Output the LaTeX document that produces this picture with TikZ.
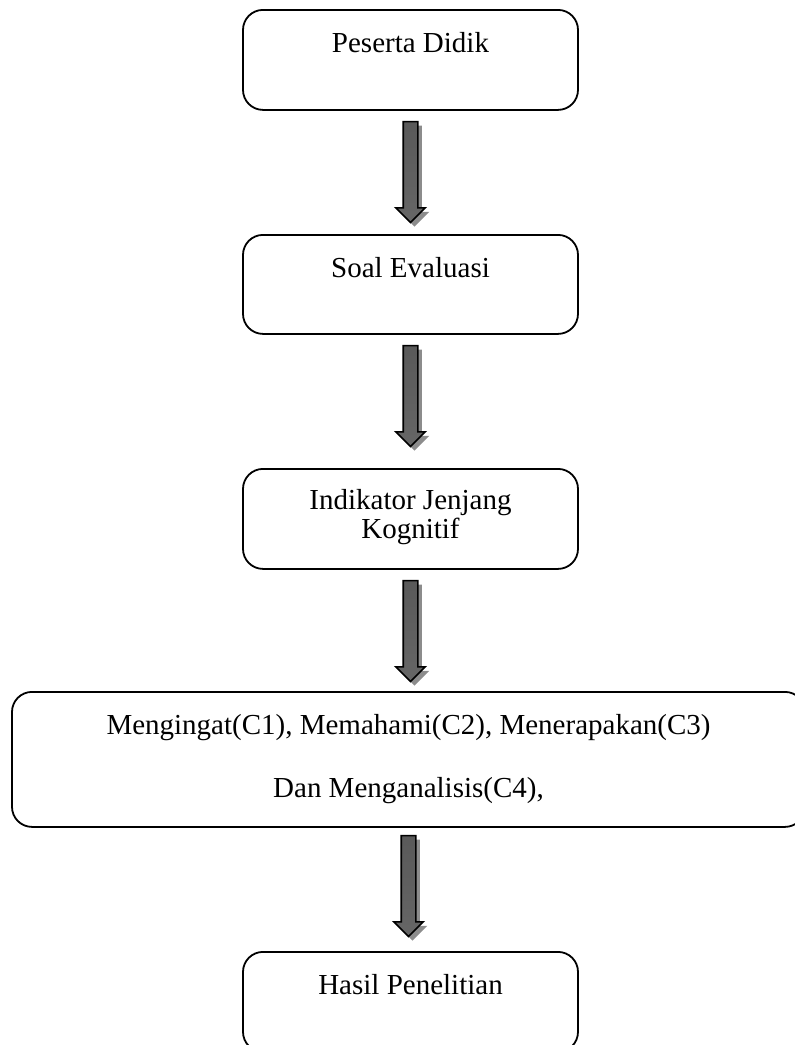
\documentclass[tikz,border=0pt]{standalone}
\usepackage{fontspec}
\setmainfont{Liberation Serif}
\usetikzlibrary{positioning,shapes.arrows,shadows}

\begin{document}
\begin{tikzpicture}[x=0.5pt,y=-0.5pt,
    box/.style={draw, line width=0.9pt, rounded corners=10pt, minimum width=167.5pt,
      inner ysep=0pt, text height=21.5pt, text depth=28.5pt, align=center, anchor=north,
      font=\fontsize{14.5pt}{14.5pt}\selectfont},
    downarr/.style={single arrow, shape border rotate=270, draw=black, line width=0.8pt,
      minimum height=50.5pt, minimum width=14pt, single arrow head extend=3.75pt,
      single arrow head indent=0pt, inner xsep=3.25pt, inner ysep=0pt,
      top color=black!65, middle color=black, bottom color=black!60,
      drop shadow={opacity=1, fill=black!45, shadow xshift=2pt, shadow yshift=-2pt},
      anchor=tail}]
  \useasboundingbox (0,0) rectangle (795,1045);
  % boxes
  \node[box] (peserta) at (410.5,9) {Peserta Didik};
  \node[box, text depth=28pt] (soal) at (410.5,234) {Soal Evaluasi};
  \node[box, text height=35pt, text depth=15pt] (indikator) at (410.5,468) {Indikator Jenjang\\Kognitif};
  \node[box, minimum width=396.5pt, text height=53pt, text depth=14.5pt] (jenjang) at (408.5,691)
    {Mengingat(C1), Memahami(C2), Menerapakan(C3)\\[17pt]Dan Menganalisis(C4),};
  \node[box] (hasil) at (410.5,951) {Hasil Penelitian};
  % arrows
  \node[downarr] (a1) at ([yshift=-5pt]peserta.south) {};
  \node[downarr] (a2) at ([yshift=-5pt]soal.south) {};
  \node[downarr] (a3) at ([yshift=-5pt]indikator.south) {};
  \node[downarr] (a4) at ([yshift=-3.5pt]jenjang.south) {};
\end{tikzpicture}
\end{document}
